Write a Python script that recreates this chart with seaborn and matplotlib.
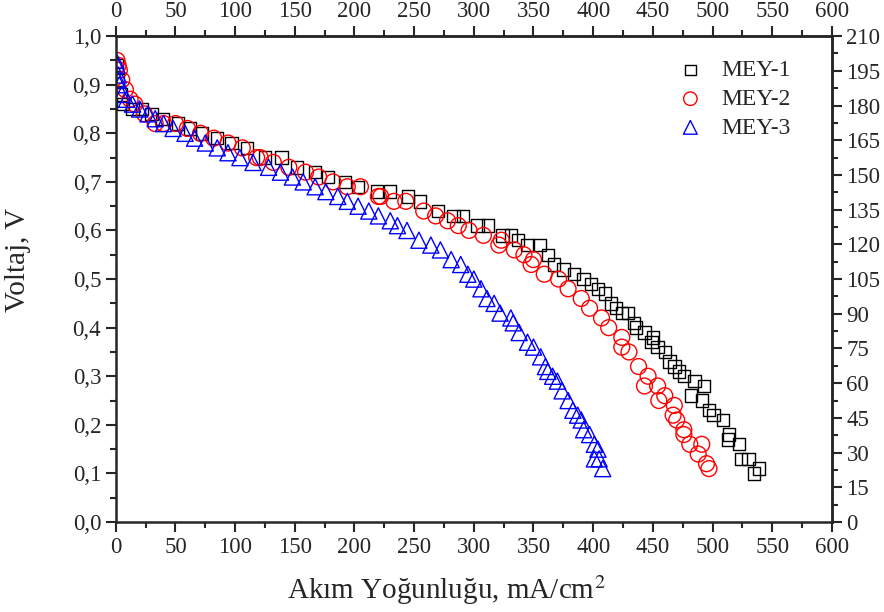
import numpy as np
import pandas as pd
import matplotlib
matplotlib.use('Agg')
import matplotlib.pyplot as plt
import seaborn as sns
from matplotlib.ticker import FixedLocator, FuncFormatter

# MEY-1 (kare), akim yogunlugu mA/cm2 ve voltaj V
mey1_i = [1, 2, 4, 6, 14, 22, 30, 39, 52, 62, 72, 85, 97, 110, 125, 139, 152, 167, 178,
          192, 203, 219, 230, 245, 255, 270, 283, 291, 303, 312, 324, 331, 337, 345, 355,
          362, 367, 375, 384, 392, 398, 404, 410, 415, 419, 424, 429, 434, 436, 443, 450,
          449, 454, 460, 464, 468, 472, 476, 485, 493, 482, 491, 497, 501, 509, 514, 513,
          522, 524, 530, 539, 535]
mey1_v = [0.94, 0.91, 0.88, 0.86, 0.85, 0.85, 0.84, 0.83, 0.82, 0.81, 0.80, 0.79, 0.78,
          0.77, 0.75, 0.75, 0.73, 0.72, 0.71, 0.70, 0.69, 0.68, 0.68, 0.67, 0.66, 0.64,
          0.63, 0.63, 0.61, 0.61, 0.59, 0.59, 0.58, 0.57, 0.57, 0.55, 0.53, 0.52, 0.51,
          0.50, 0.49, 0.48, 0.47, 0.45, 0.44, 0.43, 0.43, 0.41, 0.40, 0.39, 0.38, 0.37,
          0.36, 0.35, 0.33, 0.32, 0.31, 0.30, 0.29, 0.28, 0.26, 0.25, 0.23, 0.22, 0.21,
          0.18, 0.17, 0.16, 0.13, 0.13, 0.11, 0.10]

# MEY-2 (daire)
mey2_i = [1, 2, 3, 5, 8, 12, 16, 24, 33, 40, 50, 60, 71, 82, 94, 106, 118, 121, 132, 145,
          159, 170, 182, 194, 205, 220, 222, 233, 243, 258, 268, 278, 287, 296, 308, 321,
          323, 334, 342, 348, 350, 359, 371, 379, 390, 397, 407, 413, 424, 424, 430, 438,
          446, 443, 454, 460, 455, 468, 467, 470, 476, 476, 481, 491, 488, 495, 497]
mey2_v = [0.95, 0.94, 0.93, 0.91, 0.89, 0.87, 0.86, 0.84, 0.82, 0.82, 0.82, 0.81, 0.80,
          0.79, 0.78, 0.77, 0.75, 0.75, 0.74, 0.73, 0.72, 0.71, 0.70, 0.69, 0.69, 0.67,
          0.67, 0.66, 0.66, 0.64, 0.63, 0.62, 0.61, 0.60, 0.59, 0.57, 0.58, 0.56, 0.55,
          0.53, 0.54, 0.51, 0.50, 0.48, 0.46, 0.44, 0.42, 0.40, 0.38, 0.36, 0.35, 0.32,
          0.30, 0.28, 0.28, 0.26, 0.25, 0.24, 0.22, 0.21, 0.19, 0.18, 0.16, 0.16, 0.14,
          0.12, 0.11]

# MEY-3 (ucgen)
mey3_i = [0, 1, 2, 2, 3, 5, 9, 14, 20, 27, 33, 40, 48, 58, 66, 75, 85, 94, 104, 115, 128,
          138, 148, 157, 167, 176, 186, 194, 203, 212, 220, 230, 236, 244, 254, 264, 272,
          281, 289, 295, 300, 306, 311, 317, 322, 331, 333, 338, 345, 350, 356, 360, 362,
          366, 370, 374, 379, 383, 387, 390, 392, 397, 401, 404, 401, 405, 408]
mey3_v = [0.95, 0.94, 0.92, 0.91, 0.90, 0.88, 0.87, 0.86, 0.85, 0.84, 0.83, 0.82, 0.81,
          0.80, 0.79, 0.78, 0.77, 0.76, 0.75, 0.74, 0.73, 0.72, 0.71, 0.70, 0.69, 0.68,
          0.67, 0.66, 0.65, 0.64, 0.63, 0.62, 0.61, 0.60, 0.58, 0.57, 0.56, 0.54, 0.53,
          0.51, 0.50, 0.48, 0.46, 0.45, 0.43, 0.42, 0.41, 0.39, 0.37, 0.36, 0.34, 0.32,
          0.31, 0.30, 0.29, 0.27, 0.25, 0.23, 0.22, 0.21, 0.19, 0.18, 0.16, 0.15, 0.13,
          0.13, 0.11]

x_ticks = list(range(0, 601, 50))
y_ticks = [round(0.1 * k, 1) for k in range(11)]
p_ticks = list(range(0, 211, 15))

sns.set_style('ticks')
plt.rcParams['font.family'] = ['Liberation Serif', 'DejaVu Serif']
plt.rcParams['mathtext.fontset'] = 'stix'

fig = plt.figure(figsize=(8.84, 6.12), dpi=100)
ax = fig.add_axes([0.131, 0.147, 0.81, 0.794])

series = [
    ('MEY-1', mey1_i, mey1_v, 's', 'black', 80),
    ('MEY-2', mey2_i, mey2_v, 'o', 'red', 130),
    ('MEY-3', mey3_i, mey3_v, '^', 'blue', 135),
]
for name, xi, yv, mk, col, sz in series:
    df = pd.DataFrame({'i': xi, 'v': yv})
    sns.scatterplot(data=df, x='i', y='v', marker=mk, s=sz, facecolors='none',
                    edgecolors=col, linewidth=1.0, label=name, ax=ax)

ax.set_xlim(0, 600)
ax.set_ylim(0, 1.0)
ax.xaxis.set_major_locator(FixedLocator(x_ticks))
ax.xaxis.set_minor_locator(FixedLocator([t + 25 for t in x_ticks[:-1]]))
ax.yaxis.set_major_locator(FixedLocator(y_ticks))
ax.yaxis.set_minor_locator(FixedLocator([t + 0.05 for t in y_ticks[:-1]]))
ax.yaxis.set_major_formatter(FuncFormatter(lambda v, p: f'{v:.1f}'.replace('.', ',')))

ax.set_xlabel('Akım Yoğunluğu, mA/cm$^2$', fontsize=21)
ax.set_ylabel('Voltaj, V', fontsize=21)
ax.xaxis.set_label_coords(0.461, -0.105)
ax.yaxis.set_label_coords(-0.118, 0.54)

top = ax.secondary_xaxis('top')
top.xaxis.set_major_locator(FixedLocator(x_ticks))
top.xaxis.set_minor_locator(FixedLocator([t + 25 for t in x_ticks[:-1]]))
right = ax.secondary_yaxis('right', functions=(lambda v: v * 210, lambda p: p / 210))
right.yaxis.set_major_locator(FixedLocator(p_ticks))
right.yaxis.set_minor_locator(FixedLocator([t + 7.5 for t in p_ticks[:-1]]))

for a in (ax, top, right):
    a.tick_params(which='major', direction='out', length=7, width=1.5, labelsize=16.5)
    a.tick_params(which='minor', direction='out', length=4, width=1.5)
    for s in a.spines.values():
        s.set_linewidth(1.8)
for s in ax.spines.values():
    s.set_visible(True)

leg = ax.legend(loc='upper right', frameon=False, fontsize=17, handlelength=1.0,
                handletextpad=0.8, bbox_to_anchor=(0.972, 0.995), labelspacing=0.3,
                markerscale=0.85)

fig.savefig('out.png', dpi=100)
